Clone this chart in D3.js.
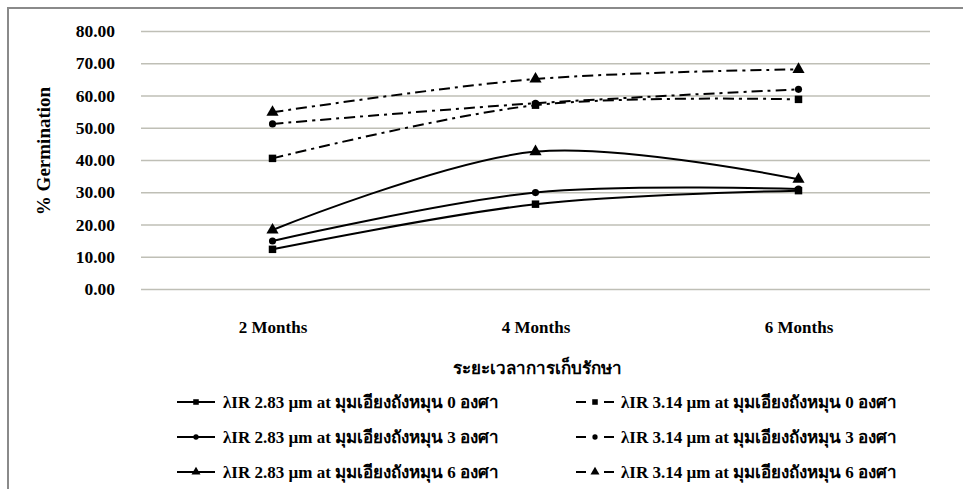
<!DOCTYPE html>
<html>
<head>
<meta charset="utf-8">
<script src="https://cdn.jsdelivr.net/npm/d3@7"></script>
<style>
  body { margin: 0; background: #fff; }
</style>
</head>
<body>
<div id="chart"></div>
<script>
// data
var months = ["2 Months", "4 Months", "6 Months"];
var yTicks = [0, 10, 20, 30, 40, 50, 60, 70, 80];
var ir283_0 = [12.3, 26.3, 30.5];
var ir283_3 = [14.9, 29.9, 31.0];
var ir283_6 = [18.3, 42.6, 34.0];
var ir314_0 = [40.5, 57.0, 58.8];
var ir314_3 = [51.2, 57.6, 61.9];
var ir314_6 = [54.8, 65.1, 68.1];
var seriesNames = [
  "λIR 2.83 µm at มุมเอียงถังหมุน 0 องศา",
  "λIR 2.83 µm at มุมเอียงถังหมุน 3 องศา",
  "λIR 2.83 µm at มุมเอียงถังหมุน 6 องศา",
  "λIR 3.14 µm at มุมเอียงถังหมุน 0 องศา",
  "λIR 3.14 µm at มุมเอียงถังหมุน 3 องศา",
  "λIR 3.14 µm at มุมเอียงถังหมุน 6 องศา"
];

var FONT = "'Liberation Serif', 'Times New Roman', 'DejaVu Serif', serif";

var series = [
  {name: seriesNames[0], values: ir283_0, marker: d3.symbolSquare, dashed: false},
  {name: seriesNames[1], values: ir283_3, marker: d3.symbolCircle, dashed: false},
  {name: seriesNames[2], values: ir283_6, marker: d3.symbolTriangle, dashed: false},
  {name: seriesNames[3], values: ir314_0, marker: d3.symbolSquare, dashed: true},
  {name: seriesNames[4], values: ir314_3, marker: d3.symbolCircle, dashed: true},
  {name: seriesNames[5], values: ir314_6, marker: d3.symbolTriangle, dashed: true}
];

var width = 963, height = 489;
var svg = d3.select("#chart").append("svg")
  .attr("width", width)
  .attr("height", height)
  .attr("font-family", FONT)
  .attr("font-weight", "bold");

// outer border
svg.append("rect")
  .attr("x", 8).attr("y", 8)
  .attr("width", width + 10).attr("height", height + 10)
  .attr("fill", "none")
  .attr("stroke", "#8a8a8a")
  .attr("stroke-width", 2);

var x = d3.scalePoint().domain(months).range([141, 930]).padding(0.5);
var y = d3.scaleLinear().domain([0, 80]).range([289, 31]);

// gridlines + y labels
var yAxis = svg.append("g")
  .attr("transform", "translate(141,0)")
  .call(d3.axisLeft(y).tickValues(yTicks).tickSize(-(930 - 141)).tickFormat(d3.format(".2f")))
  .attr("font-family", FONT)
  .attr("font-size", 17.5);
yAxis.select(".domain").remove();
yAxis.selectAll(".tick line").attr("stroke", "#bfbfb6").attr("stroke-width", 1.5);
yAxis.selectAll(".tick text")
  .attr("x", -26)
  .attr("fill", "#000");

// x labels
var xAxis = svg.append("g")
  .attr("transform", "translate(0,289)")
  .call(d3.axisBottom(x).tickSize(0))
  .attr("font-family", FONT)
  .attr("font-size", 17);
xAxis.select(".domain").remove();
xAxis.selectAll(".tick text")
  .attr("y", 32)
  .attr("fill", "#000");

// axis titles
svg.append("text")
  .attr("transform", "translate(50,151) rotate(-90)")
  .attr("text-anchor", "middle")
  .attr("font-size", 19)
  .text("% Germination");

svg.append("text")
  .attr("x", 537).attr("y", 374)
  .attr("text-anchor", "middle")
  .attr("font-size", 17)
  .text("ระยะเวลาการเก็บรักษา");

var line = d3.line()
  .x(function(d, i) { return x(months[i]); })
  .y(function(d) { return y(d); })
  .curve(d3.curveCatmullRom.alpha(0.5));

var dashPattern = "11,5,3,5";

function markerSize(m) {
  if (m === d3.symbolSquare) return 56;
  if (m === d3.symbolCircle) return 40;
  return 64;
}

series.forEach(function(s) {
  svg.append("path")
    .datum(s.values)
    .attr("d", line)
    .attr("fill", "none")
    .attr("stroke", "#000")
    .attr("stroke-width", 2)
    .attr("stroke-dasharray", s.dashed ? dashPattern : null);

  svg.selectAll(null)
    .data(s.values)
    .enter().append("path")
    .attr("transform", function(d, i) { return "translate(" + x(months[i]) + "," + y(d) + ")"; })
    .attr("d", d3.symbol().type(s.marker).size(markerSize(s.marker)))
    .attr("fill", "#000");
});

// legend
var legendRows = [402, 437, 472];
var legend = svg.append("g");
series.forEach(function(s, i) {
  var col = i < 3 ? 0 : 1;
  var row = i % 3;
  var lx = col === 0 ? 177 : 576;
  var ly = legendRows[row];
  var g = legend.append("g").attr("transform", "translate(" + lx + "," + ly + ")");
  if (s.dashed) {
    g.append("line").attr("x1", 0).attr("x2", 10).attr("stroke", "#000").attr("stroke-width", 2);
    g.append("line").attr("x1", 28).attr("x2", 38).attr("stroke", "#000").attr("stroke-width", 2);
  } else {
    g.append("line").attr("x1", 0).attr("x2", 38).attr("stroke", "#000").attr("stroke-width", 2);
  }
  g.append("path")
    .attr("transform", "translate(19,0)")
    .attr("d", d3.symbol().type(s.marker).size(markerSize(s.marker) * 0.55))
    .attr("fill", "#000");
  g.append("text")
    .attr("x", col === 0 ? 46 : 45)
    .attr("dy", "0.35em")
    .attr("font-size", 17)
    .text(s.name);
});
</script>
</body>
</html>
